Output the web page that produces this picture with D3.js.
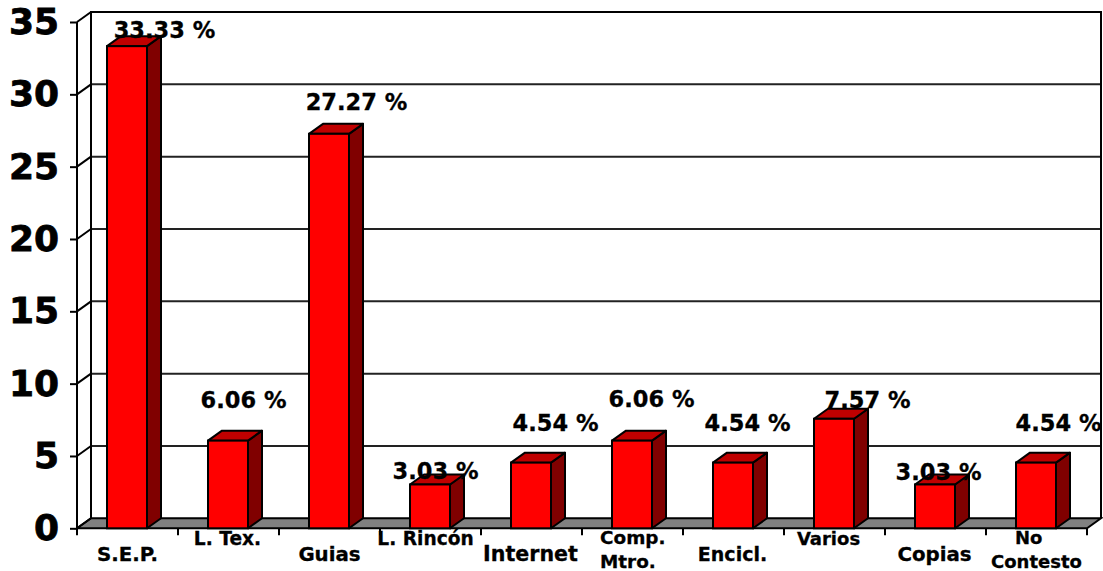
<!DOCTYPE html>
<html><head><meta charset="utf-8">
<script src="https://cdnjs.cloudflare.com/ajax/libs/d3/7.8.5/d3.min.js"></script>
<style>html,body{margin:0;padding:0;background:#fff}svg{display:block}text{font-family:"DejaVu Sans",sans-serif;font-weight:bold;fill:#000}</style>
</head><body><div id="c"></div>
<script>
const categories=["S.E.P.","L. Tex.","Guias","L. Rincón","Internet","Comp. Mtro.","Encicl.","Varios","Copias","No Contesto"];
const values=[33.33,6.06,27.27,3.03,4.54,6.06,4.54,7.57,3.03,4.54];
const valueLabels=["33.33 %","6.06 %","27.27 %","3.03 %","4.54 %","6.06 %","4.54 %","7.57 %","3.03 %","4.54 %"];
const yTicks=[0,5,10,15,20,25,30,35];

const W=1103,H=571,DX=14,DY=10,BW=40;
const x=d3.scaleBand().domain(categories).range([77,1087]);
const y=d3.scaleLinear().domain([0,35]).range([528.3,22]);
const svg=d3.select("#c").append("svg").attr("width",W).attr("height",H);
const xL=77,xR=1087,y0=y(0),yT=y(35);

// walls and floor
svg.append("path").attr("d",`M${xL},${y0}L${xL+DX},${y0-DY}H${xR+DX}L${xR},${y0}Z`).attr("fill","#808080").attr("stroke","#000").attr("stroke-width",2);
svg.selectAll("line.grid").data(yTicks.slice(1)).join("line").attr("class","grid")
  .attr("x1",xL+DX).attr("x2",xR+DX).attr("y1",d=>y(d)-DY).attr("y2",d=>y(d)-DY).attr("stroke","#222").attr("stroke-width",2);
svg.selectAll("line.diag").data(yTicks).join("line").attr("class","diag")
  .attr("x1",xL).attr("x2",xL+DX).attr("y1",d=>y(d)).attr("y2",d=>y(d)-DY).attr("stroke","#000").attr("stroke-width",2);
svg.append("path").attr("d",`M${xL},${y0}V${yT}M${xL+DX},${y0-DY}V${yT-DY}H${xR+DX}V${y0-DY}`).attr("fill","none").attr("stroke","#000").attr("stroke-width",2);

// y axis
const yAxis=d3.axisLeft(y).tickValues(yTicks).tickSize(7).tickPadding(11);
const gy=svg.append("g").attr("transform",`translate(${xL},0)`).call(yAxis);
gy.select(".domain").remove();
gy.selectAll("line").attr("stroke","#000").attr("stroke-width",2);
gy.selectAll("text").attr("font-size",36).style("font-family",'"DejaVu Sans"').style("font-weight","bold").attr("fill","#000").attr("stroke","#000").attr("stroke-width",0.8);

// x ticks
svg.selectAll("line.xt").data(d3.range(categories.length+1)).join("line").attr("class","xt")
  .attr("x1",i=>xL+i*x.step()).attr("x2",i=>xL+i*x.step()).attr("y1",y0).attr("y2",y0+7).attr("stroke","#000").attr("stroke-width",2);

// bars
const bar=svg.selectAll("g.bar").data(categories).join("g").attr("class","bar")
  .attr("transform",c=>`translate(${x(c)+x.bandwidth()/2-BW/2-0.5},0)`);
const yv=(c)=>y(values[categories.indexOf(c)]);
bar.append("path").attr("d",c=>`M${BW},${y0}L${BW+DX},${y0-DY}V${yv(c)-DY}L${BW},${yv(c)}Z`).attr("fill","#800000").attr("stroke","#000").attr("stroke-width",2).attr("stroke-linejoin","round");
bar.append("path").attr("d",c=>`M0,${yv(c)}L${DX},${yv(c)-DY}H${BW+DX}L${BW},${yv(c)}Z`).attr("fill","#c00000").attr("stroke","#000").attr("stroke-width",2).attr("stroke-linejoin","round");
bar.append("rect").attr("y",c=>yv(c)).attr("width",BW).attr("height",c=>y0-yv(c)).attr("fill","#ff0000").attr("stroke","#000").attr("stroke-width",2);

// value labels: hand placed in the original, offsets from bar-top centre
const lblDx=[37,15,27,5,24,19,14,33,3,22];
const lblY=[38,408,110,479,431,407,431,408,480,431];
svg.selectAll("text.v").data(valueLabels).join("text").attr("class","v")
  .attr("x",(d,i)=>x(categories[i])+x.bandwidth()/2+lblDx[i]).attr("y",(d,i)=>lblY[i])
  .attr("text-anchor","middle").attr("font-size",22.5).attr("stroke","#000").attr("stroke-width",0.3).text(d=>d);

// category labels
const tierY=[561,545,561,545,561,545,561,545,561,545];
const catSize=[19.8,18.6,19.8,18.6,20.6,18.4,19,18,19.8,18];
const catDx=[0,-1,0,-5,-1,0,-1,-6,-1,0];
svg.selectAll("text.c").data(categories).join("text").attr("class","c")
  .attr("font-size",(c,i)=>catSize[i]).attr("text-anchor","middle").attr("stroke","#000").attr("stroke-width",0.3)
  .attr("x",(c,i)=>x(c)+x.bandwidth()/2+catDx[i]).attr("y",(c,i)=>tierY[i])
  .each(function(c,i){
    const s=d3.select(this);
    if(c==="Comp. Mtro."){
      s.text(null).attr("text-anchor","start");
      s.append("tspan").attr("x",600).attr("y",544).text("Comp.");
      s.append("tspan").attr("x",600).attr("y",568).text("Mtro.");
    } else if(c==="No Contesto"){
      s.text(null).attr("text-anchor","start");
      s.append("tspan").attr("x",1015).attr("y",544).text("No");
      s.append("tspan").attr("x",991).attr("y",568).text("Contesto");
    } else s.text(c);
  });
</script></body></html>
